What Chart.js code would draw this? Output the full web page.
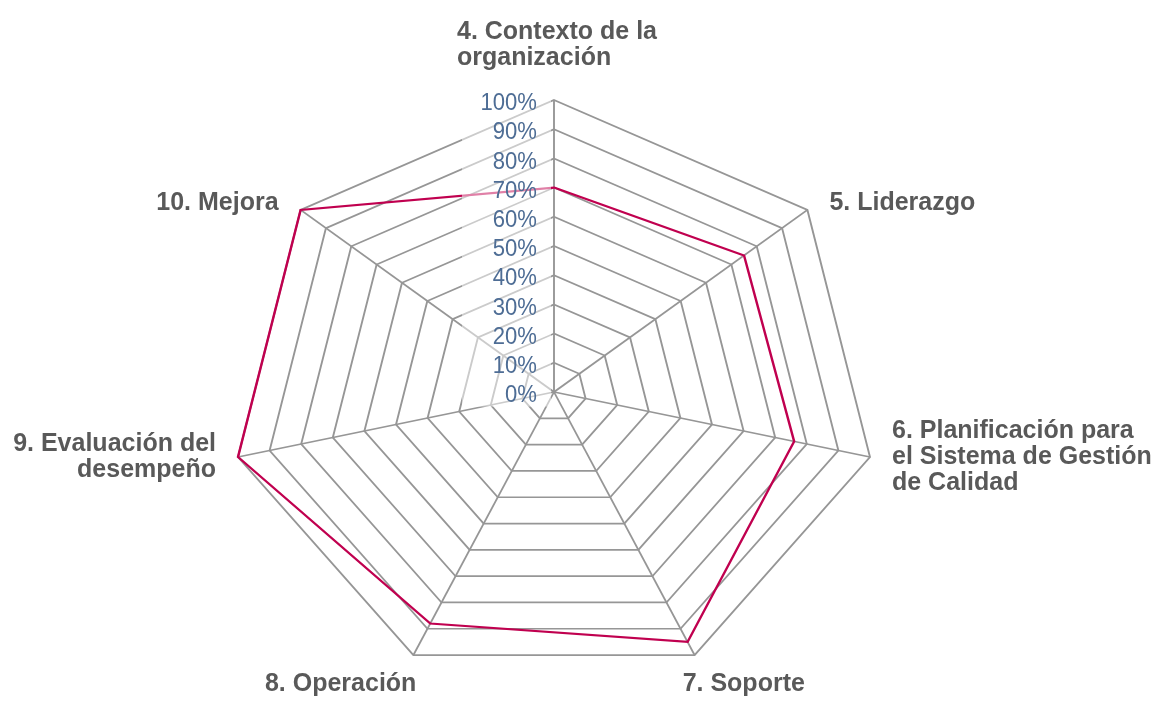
<!DOCTYPE html>
<html>
<head>
<meta charset="utf-8">
<title>Radar ISO 9001</title>
<script src="https://cdn.jsdelivr.net/npm/chart.js@4/dist/chart.umd.min.js"></script>
<style>
  body { margin: 0; background: #fff; }
  canvas { display: block; }
</style>
</head>
<body>
<canvas id="radar" width="1156" height="703"></canvas>
<script>
// chapter labels, one entry per axis (lines as they wrap in the picture)
var categories = [
  ['4. Contexto de la', 'organización'],
  ['5. Liderazgo'],
  ['6. Planificación para', 'el Sistema de Gestión', 'de Calidad'],
  ['7. Soporte'],
  ['8. Operación'],
  ['9. Evaluación del', 'desempeño'],
  ['10. Mejora']
];
var values = [70, 75, 76, 95, 88, 100, 100];
var tickLabels = ['0%', '10%', '20%', '30%', '40%', '50%', '60%', '70%', '80%', '90%', '100%'];

var GRID = '#969696';
var LINE = '#c0004f';
var TICK_COLOR = '#4e6d95';
var LABEL_COLOR = '#595959';
var STRETCH = 1.11;   // the original radar is wider than it is tall

function stretchX(scale, x) {
  return scale.xCenter + (x - scale.xCenter) * STRETCH;
}

// widen the grid and the series around the centre
var stretchPlugin = {
  id: 'stretch',
  beforeDraw: function (chart) {
    var s = chart.scales.r, ctx = chart.ctx;
    ctx.save();
    ctx.translate(s.xCenter, 0);
    ctx.scale(STRETCH, 1);
    ctx.translate(-s.xCenter, 0);
  },
  afterDraw: function (chart) {
    var s = chart.scales.r, ctx = chart.ctx;
    ctx.restore();

    // light backdrop behind the tick column, over grid and series
    var step = s.getDistanceFromCenterForValue(10);
    var top = s.yCenter - s.getDistanceFromCenterForValue(100);
    ctx.save();
    ctx.fillStyle = 'rgba(255,255,255,0.5)';
    ctx.fillRect(s.xCenter - 92, top - step / 2, 89, s.drawingArea + step);

    ctx.fillStyle = TICK_COLOR;
    ctx.font = '24px "Liberation Sans", Arial, sans-serif';
    ctx.textAlign = 'right';
    ctx.textBaseline = 'alphabetic';
    s.ticks.forEach(function (t, i) {
      var y = s.yCenter - s.getDistanceFromCenterForValue(t.value);
      ctx.save();
      ctx.translate(s.xCenter - 17, y + 1.5 + 0.36 * 24);
      ctx.scale(0.92, 1);
      ctx.fillText(tickLabels[i], 0, 0);
      ctx.restore();
    });

    // axis names
    var lh = 26;
    ctx.font = 'bold 25px "Liberation Sans", Arial, sans-serif';
    ctx.fillStyle = LABEL_COLOR;
    categories.forEach(function (lines, i) {
      var a = s.getIndexAngle(i);
      var p = s.getPointPosition(i, s.drawingArea);
      var vx = stretchX(s, p.x), vy = p.y;
      var sin = Math.sin(a), cos = Math.cos(a);
      var n = lines.length;
      var x, align, base;
      if (Math.abs(sin) < 0.1) {
        var w = Math.max.apply(null, lines.map(function (l) { return ctx.measureText(l).width; }));
        align = 'left';
        x = vx - w / 2 + 3;
        base = vy - 35 - (n - 1) * lh;
      } else if (cos < -0.5) {
        align = sin > 0 ? 'left' : 'right';
        x = sin > 0 ? vx - 12 : vx + 3;
        base = vy + 36;
      } else {
        align = sin > 0 ? 'left' : 'right';
        x = vx + (sin > 0 ? 22 : -22);
        var capMid = vy - 4 - 8 * cos;
        base = capMid - (n - 1) * lh / 2 + 9;
      }
      ctx.textAlign = align;
      lines.forEach(function (l, j) {
        ctx.fillText(l, x, base + j * lh);
      });
    });
    ctx.restore();
  }
};

var chart = new Chart(document.getElementById('radar'), {
  type: 'radar',
  data: {
    labels: categories.map(function (c) { return c.join(' '); }),
    datasets: [{
      label: 'Cumplimiento',
      data: values,
      borderColor: LINE,
      borderWidth: 2.2,
      backgroundColor: 'transparent',
      fill: false,
      pointRadius: 0,
      pointHoverRadius: 0
    }]
  },
  options: {
    responsive: false,
    animation: false,
    layout: { padding: { left: 0, right: 48, top: 100, bottom: 18 } },
    plugins: {
      legend: { display: false },
      tooltip: { enabled: false }
    },
    scales: {
      r: {
        min: 0,
        max: 100,
        ticks: { stepSize: 10, display: false },
        grid: { color: GRID, lineWidth: 1.7 },
        angleLines: { color: GRID, lineWidth: 1.7 },
        pointLabels: { display: false }
      }
    }
  },
  plugins: [stretchPlugin]
});
</script>
</body>
</html>
